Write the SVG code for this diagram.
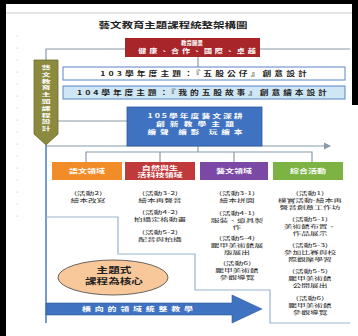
<svg xmlns="http://www.w3.org/2000/svg" width="358" height="336" viewBox="0 0 358 336">
<defs>
<style>
text{font-family:"Noto Sans CJK TC","Noto Sans CJK SC",sans-serif;text-anchor:middle}
.w{fill:#fff;font-size:6px;font-weight:bold}
.k{fill:#222;font-size:5px}
.ln{stroke:#8a9aa8;stroke-width:1.2;fill:none}
.fr{stroke:#9bb3cf;stroke-width:1.2;fill:none}
</style>
<marker id="ah" markerWidth="6" markerHeight="6" refX="5" refY="3" orient="auto"><path d="M0,0L6,3L0,6z" fill="#8a9aa8"/></marker>
</defs>
<rect width="358" height="336" fill="#fff"/>
<rect x="0" y="0" width="358" height="4" fill="#000"/>
<rect x="0" y="0" width="6" height="336" fill="#000"/>
<rect x="352" y="0" width="6" height="105" fill="#000"/>
<line x1="6" y1="13" x2="352" y2="13" stroke="#bbb" stroke-width="0.8"/>
<g fill="#bbb"><circle cx="17" cy="36" r="0.6"/><circle cx="17" cy="48" r="0.6"/><circle cx="17" cy="60" r="0.6"/><circle cx="17" cy="72" r="0.6"/><circle cx="17" cy="84" r="0.6"/><circle cx="17" cy="96" r="0.6"/><circle cx="17" cy="108" r="0.6"/><circle cx="17" cy="120" r="0.6"/><circle cx="17" cy="132" r="0.6"/><circle cx="17" cy="144" r="0.6"/><circle cx="17" cy="156" r="0.6"/><circle cx="17" cy="168" r="0.6"/><circle cx="17" cy="180" r="0.6"/><circle cx="17" cy="192" r="0.6"/><circle cx="17" cy="204" r="0.6"/><circle cx="17" cy="216" r="0.6"/></g>
<text x="173" y="28" transform="matrix(1.35,0,0,1,-60.55,0)" style="font-size:8.5px;font-weight:bold;fill:#222">藝文教育主題課程統整架構圖</text>
<g id="connectors">
<polyline class="ln" points="46,60 46,49 350,49"/>
<line class="ln" x1="198" y1="57" x2="198" y2="67"/>
<line class="ln" x1="58" y1="121" x2="127" y2="121"/>
<line class="ln" x1="46" y1="146" x2="330" y2="146" marker-end="url(#ah)"/>
<line class="ln" x1="198" y1="146" x2="198" y2="152"/>
<polyline class="ln" points="86,162 86,152 312,152 312,162"/>
<line class="ln" x1="160" y1="152" x2="160" y2="162"/>
<line class="ln" x1="234" y1="152" x2="234" y2="162"/>
<line x1="46" y1="145" x2="46" y2="323" stroke="#4a7cc0" stroke-width="1.5"/>
<polyline class="fr" points="46,217 118,217 118,254 195,254 195,290 270,290 270,323 350,323"/>
</g>
<g id="vision">
<rect x="125" y="38" width="135" height="19" fill="#a8262a"/>
<text class="w" x="192" y="44.5" style="font-size:5.5px">教育願景</text>
<text class="w" x="197" y="53.5" transform="matrix(1.35,0,0,1,-68.95,0)" textLength="87" lengthAdjust="spacing">健康、合作、國際、卓越</text>
</g>
<g id="theme103">
<rect x="63" y="67" width="282" height="13" fill="#fff" stroke="#5b86c5" stroke-width="1"/>
<text x="203.5" y="76" transform="matrix(1.35,0,0,1,-71.2,0)" textLength="153" lengthAdjust="spacing" style="font-size:6.5px;font-weight:bold;fill:#222">103學年度主題：『五股公仔』創意設計</text>
</g>
<g id="theme104">
<rect x="63" y="86" width="282" height="13" fill="#cfe6f4" stroke="#5b86c5" stroke-width="1"/>
<text x="202" y="95" transform="matrix(1.35,0,0,1,-70.7,0)" textLength="185" lengthAdjust="spacing" style="font-size:6.5px;font-weight:bold;fill:#222">104學年度主題：『我的五股故事』創意繪本設計</text>
</g>
<g id="banner">
<path d="M34,60H58V134L46,145L34,134Z" fill="#8c8a3e" stroke="#6e6c2c" stroke-width="0.8"/>
<g transform="matrix(2,0,0,1,-46,0)">
<text class="w" style="font-size:4.6px" x="46" y="69">藝</text>
<text class="w" style="font-size:4.6px" x="46" y="75.8">文</text>
<text class="w" style="font-size:4.6px" x="46" y="82.6">教</text>
<text class="w" style="font-size:4.6px" x="46" y="89.4">育</text>
<text class="w" style="font-size:4.6px" x="46" y="96.2">主</text>
<text class="w" style="font-size:4.6px" x="46" y="103">題</text>
<text class="w" style="font-size:4.6px" x="46" y="109.8">課</text>
<text class="w" style="font-size:4.6px" x="46" y="116.6">程</text>
<text class="w" style="font-size:4.6px" x="46" y="123.4">設</text>
<text class="w" style="font-size:4.6px" x="46" y="130.2">計</text>
</g>
</g>
<g id="theme105">
<rect x="127" y="107" width="135" height="39" fill="#3f72c0" stroke="#2d5a9c" stroke-width="0.8"/>
<g transform="matrix(1.6,0,0,1,-117,0)">
<text class="w" style="font-size:5.5px" x="195" y="118" textLength="59.4" lengthAdjust="spacing">105學年度藝文深耕</text>
<text class="w" style="font-size:5.5px" x="195" y="126" textLength="48.75" lengthAdjust="spacing">創新教學主題</text>
<text class="w" style="font-size:5.5px" x="195" y="134" textLength="59.4" lengthAdjust="spacing">繪聲 繪影 玩繪本</text>
</g>
</g>
<g id="lang">
<rect x="52" y="162" width="70" height="18" fill="#f28c28"/>
<text class="w" x="87" y="173.5" transform="matrix(1.5,0,0,1,-43.5,0)">語文領域</text>
<g transform="matrix(1.75,0,0,1,-66,0)">
<text class="k" x="88" y="195">(活動2)</text>
<text class="k" x="88" y="202">繪本改寫</text>
</g>
</g>
<g id="science">
<rect x="125" y="162" width="70" height="18" fill="#c0393b"/>
<g transform="matrix(1.65,0,0,1,-104,0)">
<text class="w" style="font-size:5.5px" x="160" y="170">自然與生</text>
<text class="w" style="font-size:5.5px" x="160" y="177.5">活科技領域</text>
</g>
<g transform="matrix(1.75,0,0,1,-120,0)">
<text class="k" x="160" y="195">(活動3-2)</text>
<text class="k" x="160" y="202">繪本再聲音</text>
<text class="k" x="160" y="214">(活動4-2)</text>
<text class="k" x="160" y="221">拍攝定格動畫</text>
<text class="k" x="160" y="234">(活動5-2)</text>
<text class="k" x="160" y="241">配音與拍攝</text>
</g>
</g>
<g id="arts">
<rect x="200" y="162" width="68" height="18" fill="#7b48a6"/>
<text class="w" x="234" y="173.5" transform="matrix(1.5,0,0,1,-117,0)">藝文領域</text>
<g transform="matrix(1.75,0,0,1,-177.75,0)">
<text class="k" x="237" y="195">(活動3-1)</text>
<text class="k" x="237" y="202">繪本拼圖</text>
<text class="k" x="237" y="215">(活動4-1)</text>
<text class="k" x="237" y="222">服裝、道具製</text>
<text class="k" x="237" y="229">作</text>
<text class="k" x="237" y="240">(活動5-4)</text>
<text class="k" x="237" y="247">鵬甲美術館展</text>
<text class="k" x="237" y="254">版展出</text>
<text class="k" x="237" y="265">(活動6)</text>
<text class="k" x="237" y="272">鵬甲美術館</text>
<text class="k" x="237" y="279">參觀導覽</text>
</g>
</g>
<g id="integrated">
<rect x="273" y="162" width="70" height="18" fill="#7cb342"/>
<text class="w" x="308" y="173.5" transform="matrix(1.5,0,0,1,-154,0)">綜合活動</text>
<g transform="matrix(1.75,0,0,1,-232.5,0)">
<text class="k" x="310" y="195">(活動1)</text>
<text class="k" x="310" y="202">樸實活動-繪本再</text>
<text class="k" x="310" y="209">聲音創意工作坊</text>
<text class="k" x="310" y="221">(活動5-1)</text>
<text class="k" x="310" y="228">美術館布置、</text>
<text class="k" x="310" y="235">作品展示</text>
<text class="k" x="310" y="247">(活動5-3)</text>
<text class="k" x="310" y="254">參加比賽與校</text>
<text class="k" x="310" y="261">際觀摩學習</text>
<text class="k" x="310" y="273">(活動5-5)</text>
<text class="k" x="310" y="280">鵬甲美術館</text>
<text class="k" x="310" y="287">公開展出</text>
<text class="k" x="310" y="300">(活動6)</text>
<text class="k" x="310" y="307">鵬甲美術館</text>
<text class="k" x="310" y="314">參觀導覽</text>
</g>
</g>
<g id="core">
<ellipse cx="113" cy="277.5" rx="55" ry="17.5" fill="#f8c79a" stroke="#444" stroke-width="0.8"/>
<g transform="matrix(1.45,0,0,1,-51.3,0)">
<text x="114" y="273" style="font-size:8px;font-weight:bold;fill:#222">主題式</text>
<text x="114" y="284" style="font-size:8px;font-weight:bold;fill:#222">課程為核心</text>
</g>
</g>
<g id="horizontal">
<path d="M46,303H232V295L262,309L232,323V315H46Z" fill="#3f72c0" stroke="#2d5a9c" stroke-width="0.6"/>
<text class="w" x="137.5" y="311.5" transform="matrix(1.5,0,0,1,-68.75,0)" textLength="74" lengthAdjust="spacing">橫向的領域統整教學</text>
</g>
</svg>
